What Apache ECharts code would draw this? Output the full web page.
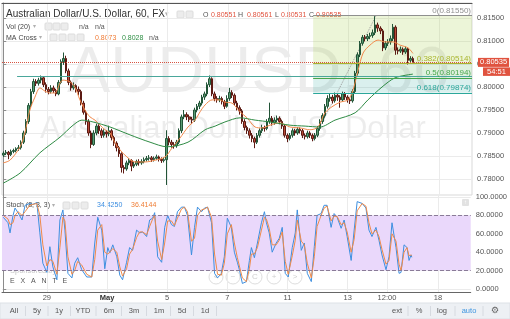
<!DOCTYPE html>
<html>
<head>
<meta charset="utf-8">
<script src="https://cdn.jsdelivr.net/npm/echarts@6/dist/echarts.min.js"></script>
<style>
  html, body { margin: 0; padding: 0; background: #fff; }
  #chart { width: 510px; height: 319px; }
</style>
</head>
<body>
<div id="chart"></div>
<script>
  // AUDUSD 60, grouped to 2-hour bars: [open, close, low, high]
  const candles = [
    [0.7852, 0.7856, 0.7848, 0.7860], [0.7856, 0.7858, 0.7852, 0.7863], [0.7858, 0.7853, 0.7843, 0.7861],
    [0.7853, 0.7860, 0.7850, 0.7864], [0.7860, 0.7862, 0.7856, 0.7866], [0.7862, 0.7866, 0.7858, 0.7869],
    [0.7866, 0.7868, 0.7861, 0.7874], [0.7868, 0.7880, 0.7864, 0.7884], [0.7880, 0.7900, 0.7876, 0.7905],
    [0.7900, 0.7925, 0.7896, 0.7930], [0.7925, 0.7960, 0.7920, 0.7965], [0.7960, 0.7990, 0.7955, 0.7996],
    [0.7990, 0.8012, 0.7985, 0.8018], [0.8012, 0.8008, 0.8002, 0.8017], [0.8008, 0.8015, 0.8003, 0.8020],
    [0.8015, 0.8020, 0.8008, 0.8025], [0.8020, 0.8005, 0.8000, 0.8023], [0.8005, 0.7995, 0.7988, 0.8010],
    [0.7995, 0.7990, 0.7984, 0.8000], [0.7990, 0.7998, 0.7986, 0.8004], [0.7998, 0.7992, 0.7987, 0.8003],
    [0.7992, 0.7985, 0.7980, 0.7996], [0.7985, 0.8010, 0.7982, 0.8015], [0.8010, 0.8055, 0.8006, 0.8060],
    [0.8055, 0.8062, 0.8048, 0.8075], [0.8062, 0.8035, 0.8030, 0.8068], [0.8035, 0.8010, 0.8004, 0.8040],
    [0.8010, 0.7998, 0.7992, 0.8014], [0.7998, 0.8003, 0.7994, 0.8010], [0.8003, 0.7995, 0.7988, 0.8006],
    [0.7995, 0.7990, 0.7982, 0.8001], [0.7990, 0.7965, 0.7960, 0.7994], [0.7965, 0.7945, 0.7940, 0.7970],
    [0.7945, 0.7925, 0.7918, 0.7950], [0.7925, 0.7900, 0.7894, 0.7930], [0.7900, 0.7875, 0.7867, 0.7905],
    [0.7875, 0.7900, 0.7872, 0.7906], [0.7900, 0.7915, 0.7895, 0.7920], [0.7915, 0.7905, 0.7898, 0.7919],
    [0.7905, 0.7895, 0.7889, 0.7910], [0.7895, 0.7902, 0.7890, 0.7908], [0.7902, 0.7898, 0.7890, 0.7906],
    [0.7898, 0.7905, 0.7893, 0.7916], [0.7905, 0.7890, 0.7884, 0.7909], [0.7890, 0.7878, 0.7872, 0.7894],
    [0.7878, 0.7868, 0.7860, 0.7882], [0.7868, 0.7855, 0.7848, 0.7872], [0.7855, 0.7825, 0.7814, 0.7858],
    [0.7825, 0.7822, 0.7812, 0.7830], [0.7822, 0.7835, 0.7818, 0.7840], [0.7835, 0.7840, 0.7830, 0.7845],
    [0.7840, 0.7828, 0.7817, 0.7843], [0.7828, 0.7832, 0.7824, 0.7837], [0.7832, 0.7838, 0.7828, 0.7842],
    [0.7838, 0.7835, 0.7829, 0.7843], [0.7835, 0.7838, 0.7831, 0.7843], [0.7838, 0.7842, 0.7834, 0.7847],
    [0.7842, 0.7845, 0.7838, 0.7850], [0.7845, 0.7846, 0.7840, 0.7852], [0.7846, 0.7842, 0.7837, 0.7850],
    [0.7842, 0.7845, 0.7838, 0.7849], [0.7845, 0.7848, 0.7841, 0.7853], [0.7848, 0.7843, 0.7838, 0.7851],
    [0.7843, 0.7840, 0.7835, 0.7847], [0.7840, 0.7842, 0.7836, 0.7847], [0.7842, 0.7888, 0.7787, 0.7906],
    [0.7888, 0.7880, 0.7873, 0.7893], [0.7880, 0.7875, 0.7868, 0.7885], [0.7875, 0.7872, 0.7866, 0.7880],
    [0.7872, 0.7880, 0.7868, 0.7885], [0.7880, 0.7905, 0.7876, 0.7910], [0.7905, 0.7935, 0.7900, 0.7940],
    [0.7935, 0.7940, 0.7930, 0.7950], [0.7940, 0.7935, 0.7928, 0.7945], [0.7935, 0.7930, 0.7924, 0.7940],
    [0.7930, 0.7928, 0.7920, 0.7935], [0.7928, 0.7950, 0.7924, 0.7955], [0.7950, 0.7958, 0.7945, 0.7963],
    [0.7958, 0.7965, 0.7952, 0.7970], [0.7965, 0.7978, 0.7960, 0.7983], [0.7978, 0.7985, 0.7972, 0.7990],
    [0.7985, 0.8005, 0.7980, 0.8010], [0.8005, 0.8018, 0.8000, 0.8025], [0.8018, 0.7985, 0.7980, 0.8021],
    [0.7985, 0.7975, 0.7969, 0.7990], [0.7975, 0.7972, 0.7966, 0.7980], [0.7972, 0.7975, 0.7967, 0.7981],
    [0.7975, 0.7968, 0.7962, 0.7979], [0.7968, 0.7958, 0.7952, 0.7972], [0.7958, 0.7975, 0.7955, 0.7982],
    [0.7975, 0.7988, 0.7970, 0.7998], [0.7988, 0.7982, 0.7976, 0.7993], [0.7982, 0.7965, 0.7960, 0.7986],
    [0.7965, 0.7955, 0.7949, 0.7970], [0.7955, 0.7948, 0.7940, 0.7960], [0.7948, 0.7925, 0.7920, 0.7952],
    [0.7925, 0.7912, 0.7906, 0.7930], [0.7912, 0.7905, 0.7898, 0.7916], [0.7905, 0.7895, 0.7888, 0.7910],
    [0.7895, 0.7888, 0.7880, 0.7900], [0.7888, 0.7880, 0.7867, 0.7892], [0.7880, 0.7895, 0.7876, 0.7900],
    [0.7895, 0.7905, 0.7890, 0.7910], [0.7905, 0.7912, 0.7900, 0.7918], [0.7912, 0.7910, 0.7903, 0.7916],
    [0.7910, 0.7925, 0.7906, 0.7930], [0.7925, 0.7932, 0.7920, 0.7966], [0.7932, 0.7922, 0.7916, 0.7937],
    [0.7922, 0.7928, 0.7918, 0.7934], [0.7928, 0.7932, 0.7923, 0.7938], [0.7932, 0.7925, 0.7919, 0.7936],
    [0.7925, 0.7915, 0.7909, 0.7929], [0.7915, 0.7895, 0.7890, 0.7919], [0.7895, 0.7888, 0.7880, 0.7899],
    [0.7888, 0.7895, 0.7884, 0.7900], [0.7895, 0.7905, 0.7890, 0.7910], [0.7905, 0.7900, 0.7894, 0.7909],
    [0.7900, 0.7908, 0.7896, 0.7913], [0.7908, 0.7905, 0.7899, 0.7912], [0.7905, 0.7895, 0.7889, 0.7909],
    [0.7895, 0.7892, 0.7886, 0.7899], [0.7892, 0.7900, 0.7888, 0.7905], [0.7900, 0.7895, 0.7889, 0.7904],
    [0.7895, 0.7888, 0.7882, 0.7899], [0.7888, 0.7895, 0.7884, 0.7900], [0.7895, 0.7910, 0.7891, 0.7915],
    [0.7910, 0.7925, 0.7905, 0.7930], [0.7925, 0.7938, 0.7920, 0.7943], [0.7938, 0.7958, 0.7933, 0.7963],
    [0.7958, 0.7975, 0.7953, 0.7982], [0.7975, 0.7978, 0.7968, 0.7986], [0.7978, 0.7970, 0.7964, 0.7983],
    [0.7970, 0.7982, 0.7966, 0.7988], [0.7982, 0.7978, 0.7970, 0.7987], [0.7978, 0.7972, 0.7955, 0.7982],
    [0.7972, 0.7985, 0.7968, 0.7990], [0.7985, 0.7978, 0.7972, 0.7989], [0.7978, 0.7972, 0.7966, 0.7982],
    [0.7972, 0.7970, 0.7963, 0.7976], [0.7970, 0.7990, 0.7966, 0.7995], [0.7990, 0.8030, 0.7986, 0.8035],
    [0.8030, 0.8070, 0.8025, 0.8075], [0.8070, 0.8095, 0.8065, 0.8100], [0.8095, 0.8108, 0.8090, 0.8113],
    [0.8108, 0.8105, 0.8099, 0.8113], [0.8105, 0.8110, 0.8100, 0.8115], [0.8110, 0.8112, 0.8104, 0.8118],
    [0.8112, 0.8118, 0.8107, 0.8125], [0.8118, 0.8135, 0.8113, 0.8154], [0.8135, 0.8128, 0.8120, 0.8140],
    [0.8128, 0.8122, 0.8115, 0.8132], [0.8122, 0.8085, 0.8078, 0.8126], [0.8085, 0.8095, 0.8080, 0.8100],
    [0.8095, 0.8098, 0.8089, 0.8104], [0.8098, 0.8105, 0.8092, 0.8112], [0.8105, 0.8130, 0.8100, 0.8137],
    [0.8130, 0.8080, 0.8070, 0.8134], [0.8080, 0.8078, 0.8071, 0.8086], [0.8078, 0.8082, 0.8074, 0.8088],
    [0.8082, 0.8076, 0.8070, 0.8086], [0.8076, 0.8083, 0.8072, 0.8088], [0.8083, 0.8058, 0.8049, 0.8086],
    [0.8058, 0.8062, 0.8054, 0.8067], [0.8062, 0.80535, 0.80531, 0.8066]
  ];

  // MA Cross lines, [bar, price]
  const maFast = [
    [0, 0.7835], [2.7, 0.7841], [6.7, 0.7870], [8.6, 0.7900], [10.6, 0.7950], [12.6, 0.7978],
    [14.6, 0.7998], [16.6, 0.7991], [18.6, 0.7987], [20.6, 0.7987], [22.6, 0.8009], [23.8, 0.8015],
    [26.6, 0.8011], [28.5, 0.8000], [30.5, 0.7972], [32.5, 0.7950], [34.5, 0.7935], [36.5, 0.7928],
    [38.5, 0.7917], [40.5, 0.7907], [42.5, 0.7900], [44.5, 0.7878], [46.5, 0.7863], [49.2, 0.7848],
    [52.4, 0.7837], [56.4, 0.7837], [60.4, 0.7841], [64.4, 0.7848], [67.1, 0.7867], [70.3, 0.7889],
    [73.5, 0.7913], [76.3, 0.7928], [78.3, 0.7946], [80.3, 0.7961], [83.1, 0.7972], [86.2, 0.7972],
    [88.2, 0.7967], [91, 0.7965], [94.2, 0.7946], [97, 0.7933], [100.2, 0.7913], [103, 0.7911],
    [106.1, 0.7917], [110.1, 0.7922], [114.1, 0.7913], [118.1, 0.7911], [122, 0.7907], [125.2, 0.7913],
    [128, 0.7944], [130.8, 0.7957], [134, 0.7967], [137.2, 0.7972], [139.2, 0.7994], [141.2, 0.8037],
    [143.2, 0.8074], [145.9, 0.8091], [149.1, 0.8102], [151.9, 0.8098], [155.1, 0.8098], [157.9, 0.8091],
    [161.1, 0.8085], [163, 0.8073]
  ];
  const maSlow = [
    [0, 0.7791], [6.7, 0.7813], [14.6, 0.7857], [22.6, 0.7891], [27.8, 0.7917], [31.3, 0.7928],
    [35.7, 0.7924], [42.5, 0.7913], [50.4, 0.7896], [58.4, 0.7880], [65.2, 0.7870], [73.5, 0.7880],
    [80.3, 0.7907], [84.3, 0.7915], [88.2, 0.7924], [94.2, 0.7933], [100.2, 0.7928], [106.1, 0.7924],
    [114.1, 0.7917], [120.1, 0.7915], [126, 0.7913], [132, 0.7928], [140, 0.7944], [145.1, 0.7972],
    [150.7, 0.8000], [155.9, 0.8020], [163, 0.8028]
  ];

  // Stoch (8, 3, 3), [bar, value]
  const stochK = [
    [0, 78], [1.9, 72], [2.7, 61], [3.9, 80], [4.7, 88], [5.9, 83], [7.5, 75], [8.7, 91], [10.6, 93],
    [11.8, 92], [13.4, 94], [14.6, 61], [15.8, 28], [17.4, 18], [18.6, 46], [19.8, 24], [21.4, 10],
    [22.6, 75], [23.8, 86], [24.6, 64], [25.8, 17], [27.4, 12], [28.5, 28], [29.7, 34], [31.3, 21],
    [33.3, 13], [35.3, 13], [36.5, 50], [37.7, 78], [39.3, 64], [40.5, 22], [41.7, 45], [42.5, 39],
    [43.7, 48], [45.3, 35], [46.5, 15], [47.6, 10], [49.2, 29], [50.4, 45], [51.6, 42], [53.2, 64],
    [54.4, 61], [55.6, 62], [57.2, 57], [58.4, 75], [59.6, 77], [60.4, 83], [61.6, 35], [63.2, 29],
    [64.4, 67], [65.6, 80], [67.1, 70], [68.3, 68], [69.5, 84], [71.1, 89], [72.3, 89], [73.5, 80],
    [75.1, 37], [76.3, 67], [77.5, 89], [79.1, 84], [80.3, 88], [81.5, 89], [83.1, 72], [84.3, 17],
    [85.5, 12], [87, 17], [88.2, 35], [89.4, 77], [91, 67], [92.2, 40], [93.4, 29], [94.2, 21],
    [95.4, 6], [97, 8], [98.2, 31], [99, 45], [100.2, 34], [101.4, 50], [103, 72], [104.2, 84],
    [105, 72], [106.1, 61], [107.3, 40], [108.9, 50], [110.1, 55], [111.3, 67], [112.5, 17], [113.7, 13],
    [115.3, 45], [116.5, 61], [117.3, 86], [118.9, 42], [120.1, 50], [121.3, 17], [122.9, 8], [124.1, 46],
    [125.2, 80], [126.8, 82], [128, 91], [129.2, 91], [130.8, 67], [132, 82], [133.2, 78], [134.8, 66],
    [136, 75], [137.2, 57], [138.8, 31], [140, 64], [141.2, 95], [143.2, 93], [144.7, 88], [145.9, 64],
    [147.1, 57], [148.7, 67], [149.9, 53], [151.1, 37], [152.7, 21], [153.9, 35], [155.1, 72], [156.7, 45],
    [157.9, 17], [158.7, 18], [159.9, 48], [161.1, 45], [161.9, 31], [162.7, 37], [163, 34.425]
  ];
  const stochD = [
    [0, 80], [1.9, 76], [2.7, 70], [3.9, 72], [4.7, 80], [5.9, 84], [7.5, 80], [8.7, 84], [10.6, 91],
    [11.8, 92], [13.4, 93], [14.6, 80], [15.8, 48], [17.4, 25], [18.6, 32], [19.8, 30], [21.4, 16],
    [22.6, 45], [23.8, 78], [24.6, 74], [25.8, 35], [27.4, 16], [28.5, 20], [29.7, 30], [31.3, 26],
    [33.3, 16], [35.3, 13], [36.5, 32], [37.7, 64], [39.3, 70], [40.5, 40], [41.7, 38], [42.5, 40],
    [43.7, 44], [45.3, 40], [46.5, 24], [47.6, 14], [49.2, 22], [50.4, 38], [51.6, 43], [53.2, 56],
    [54.4, 62], [55.6, 62], [57.2, 59], [58.4, 68], [59.6, 76], [60.4, 80], [61.6, 52], [63.2, 32],
    [64.4, 50], [65.6, 74], [67.1, 74], [68.3, 69], [69.5, 77], [71.1, 87], [72.3, 89], [73.5, 84],
    [75.1, 52], [76.3, 55], [77.5, 80], [79.1, 86], [80.3, 87], [81.5, 89], [83.1, 78], [84.3, 38],
    [85.5, 16], [87, 15], [88.2, 28], [89.4, 60], [91, 70], [92.2, 50], [93.4, 34], [94.2, 25],
    [95.4, 12], [97, 8], [98.2, 22], [99, 38], [100.2, 38], [101.4, 45], [103, 64], [104.2, 78],
    [105, 76], [106.1, 66], [107.3, 48], [108.9, 48], [110.1, 53], [111.3, 62], [112.5, 30], [113.7, 16],
    [115.3, 36], [116.5, 53], [117.3, 75], [118.9, 52], [120.1, 48], [121.3, 28], [122.9, 12], [124.1, 35],
    [125.2, 68], [126.8, 80], [128, 88], [129.2, 90], [130.8, 74], [132, 79], [133.2, 79], [134.8, 70],
    [136, 72], [137.2, 62], [138.8, 40], [140, 54], [141.2, 85], [143.2, 93], [144.7, 90], [145.9, 72],
    [147.1, 60], [148.7, 64], [149.9, 57], [151.1, 43], [152.7, 27], [153.9, 31], [155.1, 60], [156.7, 52],
    [157.9, 27], [158.7, 20], [159.9, 40], [161.1, 45], [161.9, 36], [162.7, 37], [163, 36.4144]
  ];

  // fib retracement drawing (anchor low -> high) and levels
  const fibAnchor = [[123.3, 0.78838], [148.3, 0.8155]];
  const fibLevels = ['0', '0.382', '0.5', '0.618'];
  const fibPrices = [0.8155, 0.80514, 0.80194, 0.79874];
  const resistance = [5.5, 0.80239];
  const countdown = '54:51';

  const priceTicks = [0.78, 0.785, 0.79, 0.795, 0.80, 0.805, 0.81, 0.815];
  const stochTicks = [0, 20, 40, 60, 80, 100];
  const xTickPos = [17.4, 41.4, 65.4, 89.4, 113.4, 137.4, 153.1, 173.4];
  const xTickLabels = ['29', 'May', '5', '7', '11', '13', '12:00', '18'];
  const slotCount = 187;

  const FONT = '"Liberation Sans", Arial, sans-serif';
  const lastClose = candles[candles.length - 1][1];
  const slots = Array.from({ length: slotCount }, (_, i) => String(i));
  const xMin = -0.5, xMax = slotCount - 0.5;

  const fibColors = ['#8f8f8f', '#a9b52e', '#47a64b', '#2ba79b'];
  const fibFills = ['rgba(160, 205, 60, 0.2)', 'rgba(76, 175, 80, 0.18)', 'rgba(38, 166, 154, 0.17)'];

  const fibLines = fibPrices.map((p, k) => [
    { coord: [fibAnchor[0][0], p], lineStyle: { color: fibColors[k], width: 1, type: 'solid' },
      label: { show: true, position: 'insideEndTop', distance: 1, color: fibColors[k], fontSize: 8,
        formatter: fibLevels[k] + '(' + p.toFixed(5) + ')' } },
    { coord: [xMax, p] }
  ]);
  const fibAreas = fibFills.map((c, k) => [
    { coord: [fibAnchor[0][0], fibPrices[k]], itemStyle: { color: c, borderWidth: 0 } },
    { coord: [xMax, fibPrices[k + 1]] }
  ]);

  const chart = echarts.init(document.getElementById('chart'));

  const icon = (x, y) => ({ type: 'rect', shape: { x, y, width: 7, height: 7, r: 1 },
    style: { fill: '#ececec', stroke: '#dcdcdc' } });
  const txt = (x, y, text, fill, size, extra) => ({ type: 'text', x, y,
    style: Object.assign({ text, fill, font: size + 'px ' + FONT, verticalAlign: 'middle' }, extra || {}) });
  const navBtn = (x, ch) => [
    { type: 'circle', shape: { cx: x, cy: 277, r: 7 }, style: { fill: 'rgba(255,255,255,0.4)', stroke: '#dedede' } },
    txt(x, 277, ch, '#cfcfcf', 8, { align: 'center' })
  ];

  const toolbarLeft = [['All', 14], ['5y', 37], ['1y', 59], ['YTD', 83], ['6m', 109], ['3m', 134], ['1m', 159], ['5d', 182], ['1d', 205]];
  const toolbarRight = [['ext', 397], ['%', 419], ['log', 442]];
  const seps = [25.5, 48, 70.5, 96, 121.5, 146.5, 170.5, 193.5, 216.5, 408, 430.5, 455, 483];

  const graphics = [
    { type: 'text', x: 67, y: 42, z: -10, style: { text: 'AUDUSD, 60', fill: 'rgba(0,0,0,0.075)', font: '65px ' + FONT } },
    { type: 'text', x: 40, y: 114, z: -10, style: { text: 'Australian Dollar/U.S. Dollar', fill: 'rgba(0,0,0,0.075)', font: '31px ' + FONT } },

    txt(6, 14.5, 'Australian Dollar/U.S. Dollar, 60, FX', '#333', 10),
    txt(165, 14.5, '▾', '#b0b0b0', 7),
    icon(177, 11), icon(186, 11),
    txt(203, 15, 'O', '#555', 7), txt(211, 15, '0.80551', '#e0533f', 7),
    txt(238, 15, 'H', '#555', 7), txt(247, 15, '0.80561', '#e0533f', 7),
    txt(275, 15, 'L', '#555', 7), txt(281, 15, '0.80531', '#e0533f', 7),
    txt(309, 15, 'C', '#555', 7), txt(316, 15, '0.80535', '#e0533f', 7),

    txt(6, 26.7, 'Vol (20)', '#444', 7), txt(33, 26.7, '▾', '#b0b0b0', 6),
    icon(45, 23), icon(53, 23), icon(61, 23),
    txt(79, 26.7, 'n/a', '#555', 7), txt(95, 26.7, 'n/a', '#555', 7),

    txt(6, 37.7, 'MA Cross', '#444', 7), txt(39, 37.7, '▾', '#b0b0b0', 6),
    icon(50, 34), icon(59, 34), icon(68, 34), icon(77, 34),
    txt(95, 37.7, '0.8073', '#f07b35', 7), txt(122, 37.7, '0.8028', '#2f8f45', 7),
    txt(149, 37.7, 'n/a', '#555', 7),

    txt(6, 205.5, 'Stoch (8, 3, 3)', '#444', 7), txt(52, 205.5, '▾', '#b0b0b0', 6),
    icon(63, 202), icon(72, 202), icon(81, 202),
    txt(97, 205.5, '34.4250', '#3b8de0', 7), txt(131, 205.5, '36.4144', '#ef7d35', 7),
    { type: 'rect', shape: { x: 462, y: 199, width: 7, height: 7, r: 1 }, style: { fill: '#e2e2e2' } },
    txt(465.5, 202.5, '↑', '#fff', 6, { align: 'center' }),

    txt(10, 271, 'Sponsored by', '#c6c6c6', 7.5),
    txt(10, 281, 'E   X   A   N   T   E', '#555', 7),
    ...navBtn(216, '<'), ...navBtn(233, '−'), ...navBtn(255, 'C'), ...navBtn(274, '+'), ...navBtn(295, '>'),

    { type: 'rect', shape: { x: 0, y: 303, width: 510, height: 16 }, style: { fill: '#edf0f4', stroke: '#dde1e6' } },
    ...toolbarLeft.map(([t, x]) => txt(x, 311, t, '#555', 7.5, { align: 'center' })),
    ...toolbarRight.map(([t, x]) => txt(x, 311, t, '#555', 7.5, { align: 'center' })),
    txt(469, 311, 'auto', '#3d95e0', 7.5, { align: 'center' }),
    txt(495, 311, '⚙', '#666', 9, { align: 'center', font: '9px "DejaVu Sans"' }),
    ...seps.map(x => ({ type: 'line', shape: { x1: x, y1: 306, x2: x, y2: 316 }, style: { stroke: '#d6dae0' } }))
  ];

  const option = {
    animation: false,
    backgroundColor: '#fff',
    textStyle: { fontFamily: FONT },
    graphic: graphics,
    grid: [
      { left: 2, right: 38, top: 3, height: 192, show: true, borderColor: '#d9d9d9', borderWidth: 1 },
      { left: 2, right: 38, top: 195, height: 97 }
    ],
    xAxis: [
      { type: 'category', gridIndex: 0, data: slots, boundaryGap: true, show: false },
      { type: 'value', gridIndex: 0, min: xMin, max: xMax,
        axisLabel: { show: false },
        axisTick: { show: false, customValues: xTickPos },
        axisLine: { show: true, onZero: false, lineStyle: { color: '#555' } },
        splitLine: { show: true, lineStyle: { color: '#ebebeb' } } },
      { type: 'value', gridIndex: 1, min: xMin, max: xMax,
        axisTick: { show: false, customValues: xTickPos },
        axisLine: { show: true, onZero: false, lineStyle: { color: '#666' } },
        splitLine: { show: true, lineStyle: { color: '#ebebeb' } },
        axisLabel: {
          customValues: xTickPos, margin: 2, fontSize: 7.5, color: '#555',
          formatter: v => {
            const k = xTickPos.findIndex(p => Math.abs(p - v) < 0.01);
            const t = k >= 0 ? xTickLabels[k] : '';
            return t === 'May' ? '{b|May}' : t;
          },
          rich: { b: { fontWeight: 'bold', fontSize: 7.5, color: '#333' } }
        } }
    ],
    yAxis: [
      { type: 'value', gridIndex: 0, position: 'right', min: 0.776522, max: 0.818261, scale: true,
        axisLine: { show: true, lineStyle: { color: '#8c8c8c' } },
        axisTick: { show: true, length: 3, customValues: priceTicks, lineStyle: { color: '#8c8c8c' } },
        axisLabel: { customValues: priceTicks, margin: 5, fontSize: 7.5, color: '#555', formatter: v => v.toFixed(5) },
        splitLine: { show: true, lineStyle: { color: '#ebebeb' } } },
      { type: 'value', gridIndex: 1, position: 'right', min: -3.3, max: 102.2,
        axisLine: { show: true, lineStyle: { color: '#8c8c8c' } },
        axisTick: { show: true, length: 3, customValues: stochTicks, lineStyle: { color: '#8c8c8c' } },
        axisLabel: { customValues: stochTicks, margin: 5, fontSize: 7.5, color: '#555', formatter: v => v.toFixed(4) },
        splitLine: { show: true, lineStyle: { color: '#ebebeb' } } }
    ],
    series: [
      {
        name: 'fib', type: 'line', xAxisIndex: 1, yAxisIndex: 0, data: fibAnchor, symbol: 'none', z: 1,
        lineStyle: { color: '#9a9a9a', width: 1, type: 'dotted' },
        markArea: { silent: true, itemStyle: { borderWidth: 0 }, data: fibAreas },
        markLine: { silent: true, precision: 5, symbol: ['none', 'none'], data: [
          ...fibLines,
          [{ coord: resistance, lineStyle: { color: '#4aa79b', width: 1, type: 'solid' }, label: { show: false } },
           { coord: [xMax, resistance[1]] }]
        ] }
      },
      {
        name: 'AUDUSD', type: 'candlestick', xAxisIndex: 0, yAxisIndex: 0, data: candles,
        barWidth: '80%',
        itemStyle: { color: '#5a9c74', color0: '#b84a37', borderColor: '#225437', borderColor0: '#5b1a13', borderWidth: 1 }
      },
      { name: 'MA fast', type: 'line', xAxisIndex: 1, yAxisIndex: 0, data: maFast, symbol: 'none', smooth: 0.3,
        lineStyle: { color: '#f28a4c', width: 1 },
        markLine: {
          silent: true, precision: 5, symbol: ['none', 'none'],
          lineStyle: { color: '#d75442', type: 'dotted', width: 1 },
          data: [{ yAxis: lastClose }],
          label: {
            show: true, position: 'end', distance: 6,
            formatter: lastClose.toFixed(5),
            backgroundColor: '#e0533f', color: '#fff', fontSize: 7.5, padding: [1, 2, 0, 2]
          }
        } },
      { name: 'MA slow', type: 'line', xAxisIndex: 1, yAxisIndex: 0, data: maSlow, symbol: 'none', smooth: 0.3,
        lineStyle: { color: '#2e8b44', width: 1 } },
      {
        name: '%K', type: 'line', xAxisIndex: 2, yAxisIndex: 1, data: stochK, symbol: 'none',
        lineStyle: { color: '#3d8fe0', width: 1 },
        markArea: { silent: true, itemStyle: { color: '#ead8fb' }, data: [[{ yAxis: 20 }, { yAxis: 80 }]] },
        markLine: { silent: true, symbol: ['none', 'none'], label: { show: false },
          lineStyle: { color: '#8a7b98', type: 'dashed', width: 1 }, data: [{ yAxis: 20 }, { yAxis: 80 }] }
      },
      { name: '%D', type: 'line', xAxisIndex: 2, yAxisIndex: 1, data: stochD, symbol: 'none',
        lineStyle: { color: '#ef8a49', width: 1 } }
    ]
  };

  chart.setOption(option);

  // countdown tag sits just under the last-price tag on the price axis
  const tagY = chart.convertToPixel({ yAxisIndex: 0 }, lastClose);
  option.graphic = graphics.concat([
    { type: 'rect', shape: { x: 483, y: tagY + 5, width: 27, height: 8.5 }, style: { fill: '#e0533f' } },
    txt(496.5, tagY + 9.5, countdown, '#fff', 7.5, { align: 'center' })
  ]);
  chart.setOption(option);
</script>
</body>
</html>
